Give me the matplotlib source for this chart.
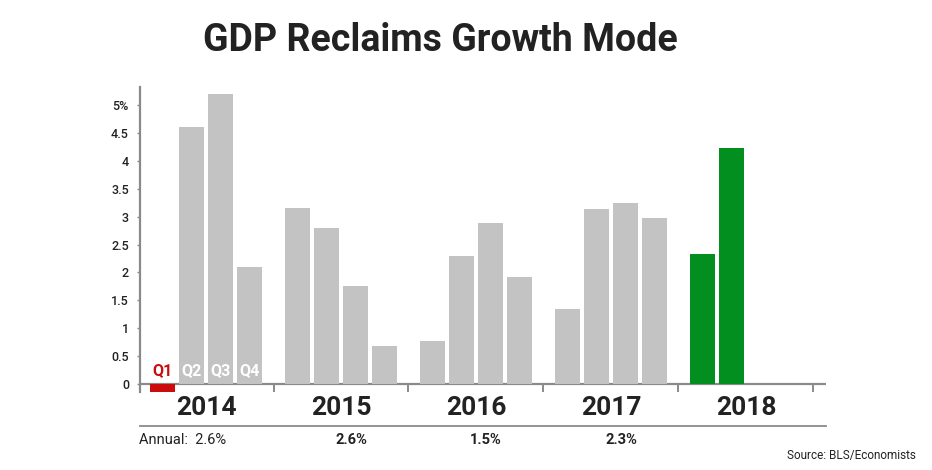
import matplotlib
matplotlib.use("Agg")
import matplotlib.pyplot as plt

plt.rcParams['font.family'] = ['Roboto', 'DejaVu Sans']

years = ["2014", "2015", "2016", "2017", "2018"]
quarters = ["Q1", "Q2", "Q3", "Q4"]
gdp_2014 = [-0.15, 4.6, 5.2, 2.1]
gdp_2015 = [3.15, 2.8, 1.75, 0.68]
gdp_2016 = [0.78, 2.3, 2.88, 1.92]
gdp_2017 = [1.35, 3.13, 3.25, 2.97]
gdp_2018 = [2.33, 4.23]
annual = ["2.6%", "2.6%", "1.5%", "2.3%"]
yticks = [0, 0.5, 1, 1.5, 2, 2.5, 3, 3.5, 4, 4.5, 5]
ytick_labels = ["0", "0.5", "1", "1.5", "2", "2.5", "3", "3.5", "4", "4.5", "5%"]

GRAY = "#c3c3c3"
GREEN = "#028f1f"
RED = "#cc0c0c"
AXIS = "#8a8a8a"
TEXT = "#222222"

x0 = 0.776      # first bar centre
gstep = 4.655   # spacing between year groups
bw = 0.86

fig = plt.figure(figsize=(9.32, 4.70), dpi=100)
ax = fig.add_axes([140 / 932, 1 - 392 / 470, 686 / 932, 305 / 470])

series = [gdp_2014, gdp_2015, gdp_2016, gdp_2017, gdp_2018]
for g, vals in enumerate(series):
    for q, v in enumerate(vals):
        x = x0 + g * gstep + q
        if years[g] == "2018":
            c = GREEN
        elif v < 0:
            c = RED
        else:
            c = GRAY
        ax.bar(x, v, width=bw, color=c, zorder=2)

# quarter labels in the first group
for q, lab in enumerate(quarters):
    ax.text(x0 + q, 0.24, lab, ha='center', va='center', fontsize=11.5,
            fontweight='bold', color=RED if q == 0 else 'white', zorder=3)

ax.set_xlim(0, 686 / 29)
ax.set_ylim(-0.14, 5.32)

for s in ['top', 'right', 'bottom']:
    ax.spines[s].set_visible(False)
ax.spines['left'].set_color(AXIS)
ax.spines['left'].set_linewidth(1.6)
ax.axhline(0, color=AXIS, lw=1.6, zorder=1)

ax.set_yticks(yticks)
ax.set_yticklabels(ytick_labels, fontweight='medium')
ax.tick_params(axis='y', length=2, width=1, color=AXIS, labelsize=9,
               labelcolor=TEXT, pad=6)
ax.set_xticks([])

# separators between years
for g in range(len(years)):
    xs = x0 + g * gstep + 3 + (gstep - 3) / 2
    ax.plot([xs, xs], [0, -0.13], color=AXIS, lw=1.4, clip_on=False)

# year labels
for g, yr in enumerate(years):
    ax.text(x0 + g * gstep + 1.5, -0.42, yr, ha='center', va='center',
            fontsize=19, fontweight='bold', color=TEXT)

# lower rule
ax.plot([0, 686 / 29], [-0.75, -0.75], color=AXIS, lw=1.3, clip_on=False)

# annual figures
ax.text(-0.05, -1.0, "Annual:  " + annual[0], ha='left', va='center',
        fontsize=10.5, color=TEXT)
for g in range(1, len(annual)):
    ax.text(x0 + g * gstep + 1.3, -1.0, annual[g], ha='left', va='center',
            fontsize=10.5, fontweight='bold', color=TEXT)

fig.text(916 / 932, 1 - 455 / 470, "Source: BLS/Economists", ha='right',
         va='center', fontsize=8.5, color=TEXT)
fig.text(440 / 932, 1 - 51 / 470, "GDP Reclaims Growth Mode", ha='center',
         va='baseline', fontsize=27, fontweight='bold', color=TEXT)

fig.savefig("out.png", dpi=100)
